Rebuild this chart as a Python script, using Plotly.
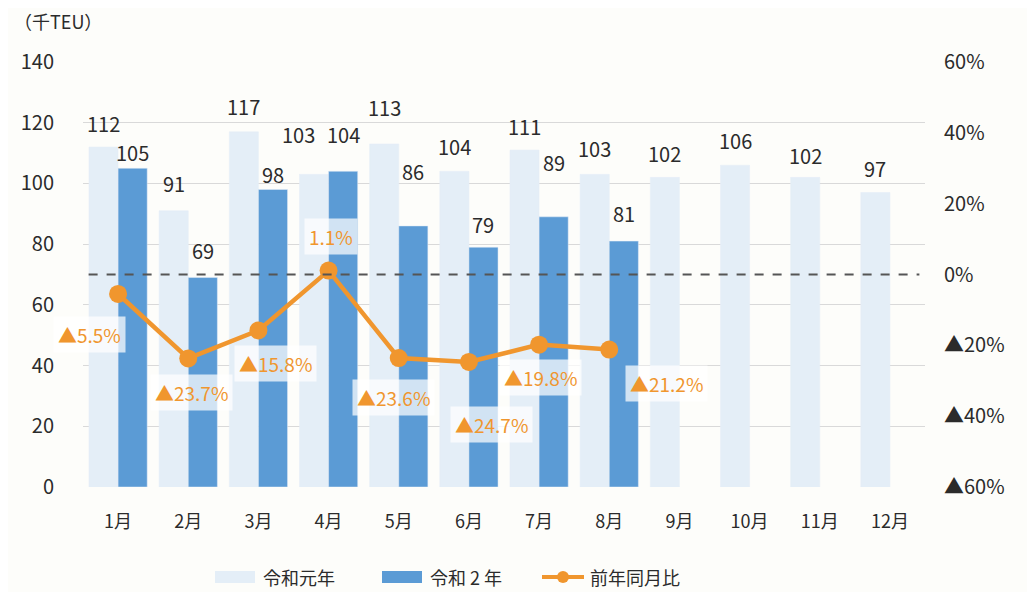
import plotly.graph_objects as go

months = ["1月", "2月", "3月", "4月", "5月", "6月", "7月", "8月", "9月", "10月", "11月", "12月"]
r1_values = [112, 91, 117, 103, 113, 104, 111, 103, 102, 106, 102, 97]
r2_values = [105, 69, 98, 104, 86, 79, 89, 81]
yoy_pct = [-5.5, -23.7, -15.8, 1.1, -23.6, -24.7, -19.8, -21.2]
left_ticks = [0, 20, 40, 60, 80, 100, 120, 140]
right_tickvals = [60, 40, 20, 0, -20, -40, -60]
right_ticktext = ["60%", "40%", "20%", "0%", "▲20%", "▲40%", "▲60%"]
series_names = ["令和元年", "令和 2 年", "前年同月比"]
unit_label = "（千TEU）"

FONT = "Noto Sans CJK JP"
TXT = "#2b2b2b"
LIGHT = "#e4eef7"
BLUE = "#5b9bd5"
ORANGE = "#f0962e"
BG = "#fdfdfa"

W, H = 1035, 592
OFF = 8  # page body margin offset
ML, MR, MT, MB = 83 - OFF, 110 + OFF, 62 - OFF, 105 + OFF
BARGAP = 0.17
CAT_PX = (W - ML - MR) / len(months)
HALF_BAR = CAT_PX * (1 - BARGAP) / 4  # pixel offset from category centre to bar centre

def pct_label(v):
    return ("▲" if v < 0 else "") + f"{abs(v):.1f}%"

fig = go.Figure()
fig.add_trace(go.Bar(x=months, y=r1_values, name=series_names[0], marker_color=LIGHT))
fig.add_trace(go.Bar(x=months[:len(r2_values)], y=r2_values, name=series_names[1],
                     marker_color=BLUE))
fig.add_trace(go.Scatter(
    x=months[:len(yoy_pct)], y=yoy_pct, name=series_names[2], yaxis="y2",
    mode="lines+markers", line=dict(color=ORANGE, width=4.5),
    marker=dict(size=18, color=ORANGE),
))

# zero reference line on secondary axis
fig.add_shape(type="line", xref="x", yref="y2", x0=-0.42, x1=11.42, y0=0, y1=0,
              line=dict(color="#555555", width=2, dash="dash"), layer="above")

# bar value labels (placement offsets as in the original layout)
r1_lift = [24, 27, 25, 40, 36, 25, 24, 26, 24, 25, 22, 24]
r1_nudge = [0, 0, 0, -16, 0, 0, 0, 0, 0, 0, 0, 0]
r2_lift = [16, 27, 15, 37, 54, 23, 54, 28]
for m, v, dy, dx in zip(months, r1_values, r1_lift, r1_nudge):
    fig.add_annotation(x=m, y=v, text=str(v), showarrow=False, xshift=-HALF_BAR + dx,
                       yshift=dy, font=dict(size=20, color=TXT, family=FONT))
for m, v, dy in zip(months, r2_values, r2_lift):
    fig.add_annotation(x=m, y=v, text=str(v), showarrow=False, xshift=HALF_BAR,
                       yshift=dy, font=dict(size=20, color=TXT, family=FONT))

# percentage labels
label_offsets = [(-29, -41), (3, -34), (17, -33), (2, 34), (-5, -39), (23, -63), (1, -33), (57, -34)]
for m, v, (dx, dy) in zip(months, yoy_pct, label_offsets):
    fig.add_annotation(x=m, y=v, yref="y2", text=pct_label(v), showarrow=False,
                       xshift=dx, yshift=dy,
                       font=dict(size=19, color=ORANGE, family=FONT),
                       bgcolor="rgba(255,255,255,0.72)", borderpad=4)

# custom legend / header text in screen pixel coordinates
def px_x(px):
    return (px - OFF - ML) / (W - ML - MR)

def px_y(py):
    return (H - MB - (py - OFF)) / (H - MT - MB)

fig.add_annotation(x=px_x(12), y=px_y(21), xref="paper", yref="paper", text=unit_label,
                   showarrow=False, xanchor="left", yanchor="middle",
                   font=dict(size=18, color=TXT, family=FONT))

ly = 577
fig.add_shape(type="rect", xref="paper", yref="paper", x0=px_x(215), x1=px_x(255),
              y0=px_y(583), y1=px_y(571), fillcolor=LIGHT, line=dict(width=0))
fig.add_shape(type="rect", xref="paper", yref="paper", x0=px_x(382), x1=px_x(422),
              y0=px_y(583), y1=px_y(571), fillcolor=BLUE, line=dict(width=0))
fig.add_shape(type="line", xref="paper", yref="paper", x0=px_x(542), x1=px_x(584),
              y0=px_y(ly), y1=px_y(ly), line=dict(color=ORANGE, width=4))
fig.add_shape(type="circle", xref="paper", yref="paper", x0=px_x(557), x1=px_x(569),
              y0=px_y(583), y1=px_y(571), fillcolor=ORANGE, line=dict(width=0))
for name, xl in zip(series_names, [261, 428, 588]):
    fig.add_annotation(x=px_x(xl), y=px_y(ly), xref="paper", yref="paper", text=name,
                       showarrow=False, xanchor="left", yanchor="middle",
                       font=dict(size=18, color=TXT, family=FONT))

fig.update_layout(
    width=W, height=H,
    margin=dict(l=ML, r=MR, t=MT, b=MB, autoexpand=False),
    paper_bgcolor=BG, plot_bgcolor=BG,
    barmode="group", bargap=BARGAP, bargroupgap=0,
    font=dict(family=FONT, color=TXT),
    showlegend=False,
    xaxis=dict(range=[-0.5, len(months) - 0.5], autorange=False,
               tickfont=dict(size=18, color=TXT), showgrid=False, ticklabelstandoff=22,
               showline=False, automargin=False),
    yaxis=dict(range=[0, 140], autorange=False, tickvals=left_ticks, showgrid=True,
               gridcolor="#d9d9d9", gridwidth=1, tickfont=dict(size=20, color=TXT),
               zeroline=False, ticklabelstandoff=28, ticklen=0, automargin=False),
    yaxis2=dict(range=[-60, 60], autorange=False, overlaying="y", side="right",
                tickvals=right_tickvals, ticktext=right_ticktext, showgrid=False,
                zeroline=False, tickfont=dict(size=20, color=TXT), ticklabelstandoff=18,
                automargin=False),
)

fig.write_html("out.html")
